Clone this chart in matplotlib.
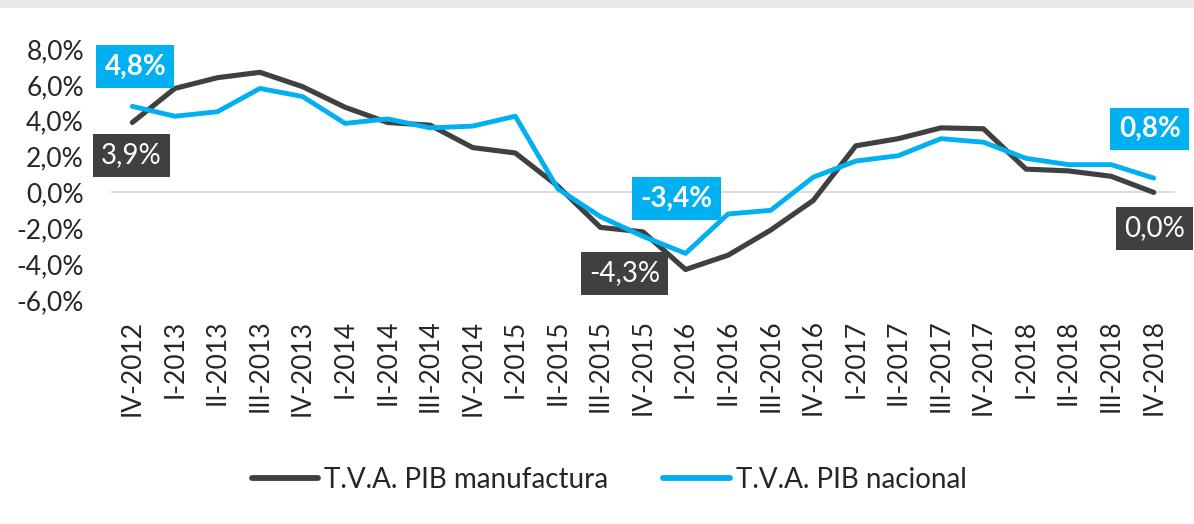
import matplotlib
matplotlib.use("Agg")
import matplotlib.pyplot as plt
from matplotlib.patches import Rectangle

# ---- data ----
quarters = ["IV-2012", "I-2013", "II-2013", "III-2013", "IV-2013",
            "I-2014", "II-2014", "III-2014", "IV-2014",
            "I-2015", "II-2015", "III-2015", "IV-2015",
            "I-2016", "II-2016", "III-2016", "IV-2016",
            "I-2017", "II-2017", "III-2017", "IV-2017",
            "I-2018", "II-2018", "III-2018", "IV-2018"]
pib_manufactura = [3.9, 5.8, 6.4, 6.7, 5.9, 4.75, 3.9, 3.75, 2.5, 2.2, 0.35,
                   -1.95, -2.2, -4.3, -3.5, -2.1, -0.45, 2.6, 3.0, 3.6, 3.55,
                   1.3, 1.2, 0.9, 0.0]
pib_nacional = [4.8, 4.25, 4.5, 5.8, 5.35, 3.85, 4.1, 3.6, 3.7, 4.25, 0.2,
                -1.35, -2.45, -3.4, -1.2, -1.0, 0.85, 1.75, 2.05, 3.0, 2.8,
                1.9, 1.55, 1.55, 0.8]
series_names = ["T.V.A. PIB manufactura", "T.V.A. PIB nacional"]
yticks = [-6, -4, -2, 0, 2, 4, 6, 8]

# labelled points: (point index, text)
labels_manuf = [(0, "3,9%"), (13, "-4,3%"), (24, "0,0%")]
labels_nac = [(0, "4,8%"), (13, "-3,4%"), (24, "0,8%")]

DARK = "#404040"
BLUE = "#00B0F0"
TXT = "#262626"
FONT = "Lato"

W, H = 1194, 524
fig = plt.figure(figsize=(W / 100, H / 100), dpi=100)
fig.patch.set_facecolor("white")

# light strip on top (screenshot edge)
fig.patches.append(Rectangle((0, 1 - 8 / H), 1, 8 / H, transform=fig.transFigure,
                             facecolor="#e9e9e9", edgecolor="none", zorder=0))

ax = fig.add_axes([111 / W, (H - 300) / H, (1175 - 111) / W, (300 - 49) / H])
x = list(range(len(quarters)))

ax.axhline(0, color="#d9d9d9", lw=1.3, zorder=1)
ax.plot(x, pib_manufactura, color=DARK, lw=3.7, label=series_names[0], zorder=3,
        solid_capstyle="round", solid_joinstyle="round")
ax.plot(x, pib_nacional, color=BLUE, lw=3.5, label=series_names[1], zorder=4,
        solid_capstyle="round", solid_joinstyle="round")

ax.set_xlim(-0.5, len(quarters) - 0.5)
ax.set_ylim(-6, 8)
ax.set_yticks(yticks)
ax.set_yticklabels([f"{v:.1f}%".replace(".", ",") for v in yticks],
                   fontsize=19, family=FONT, color=TXT)
ax.set_xticks(x)
ax.set_xticklabels(quarters, rotation=90, fontsize=19, family=FONT, color=TXT)
ax.tick_params(axis="both", length=0)
ax.tick_params(axis="x", pad=14)
ax.tick_params(axis="y", pad=19.5)
for s in ax.spines.values():
    s.set_visible(False)

# data labels (offsets in pixels)
off_manuf = [(-1, -33), (-61, -4), (1, -36)]
off_nac = [(3, 40), (-9, 55), (-4, 49)]
for (i, t), off in zip(labels_manuf, off_manuf):
    ax.annotate(t, (x[i], pib_manufactura[i]), xytext=off, textcoords="offset pixels",
                ha="center", va="center", fontsize=20, family=FONT, color="white",
                bbox=dict(boxstyle="square,pad=0.3", fc=DARK, ec="none"),
                zorder=6, annotation_clip=False)
for (i, t), off in zip(labels_nac, off_nac):
    ax.annotate(t, (x[i], pib_nacional[i]), xytext=off, textcoords="offset pixels",
                ha="center", va="center", fontsize=20, family=FONT, color="white",
                fontweight="bold",
                bbox=dict(boxstyle="square,pad=0.3", fc=BLUE, ec="none"),
                zorder=6, annotation_clip=False)

leg = fig.legend(loc="center", bbox_to_anchor=(609 / W, (H - 480) / H), ncol=2,
                 frameon=False, prop={"family": FONT, "size": 20},
                 handlelength=2.4, handletextpad=0.2, columnspacing=2.0)
for t in leg.get_texts():
    t.set_color(TXT)
for l in leg.get_lines():
    l.set_linewidth(4.2)
    l.set_solid_capstyle("round")

fig.savefig("out.png", dpi=100)
